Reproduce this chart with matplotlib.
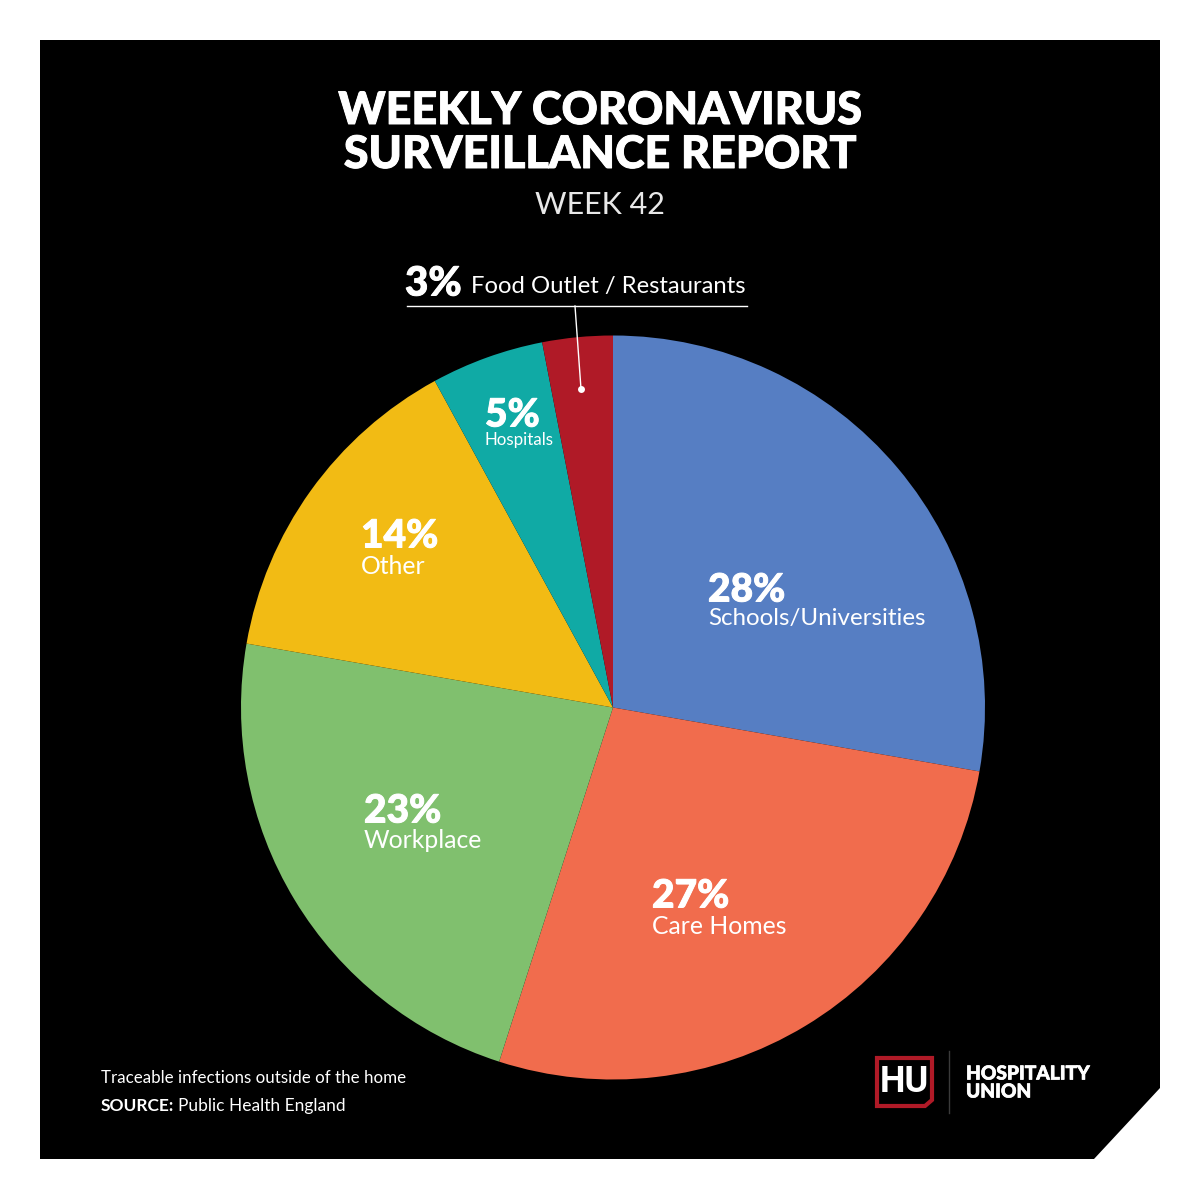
import matplotlib
matplotlib.use("Agg")
import matplotlib.pyplot as plt
import matplotlib.patheffects as pe
from matplotlib.patches import Polygon

categories = ["Schools/Universities", "Care Homes", "Workplace", "Other", "Hospitals", "Food Outlet / Restaurants"]
# printed percentages
values = [28, 27, 23, 14, 5, 3]
# slice sizes, the artwork is not exactly the printed numbers
slice_sizes = [27.75, 27.2, 22.8, 14.3, 4.9, 3.05]
colors = ["#567ec3", "#f16c4d", "#80c06e", "#f2bb14", "#10aaa5", "#b01a27"]

plt.rcParams["font.family"] = ["Lato", "DejaVu Sans"]

fig = plt.figure(figsize=(12, 12), dpi=100, facecolor="white")

# page layer works in image pixels, y going down
bg = fig.add_axes([0, 0, 1, 1])
bg.set_xlim(0, 1200)
bg.set_ylim(1200, 0)
bg.axis("off")
bg.add_patch(Polygon([(40, 40), (1160, 40), (1160, 1088), (1094, 1159), (40, 1159)], fc="black", ec="none"))

# pie centre 613,707 radius 372
cx, cy, r = 613, 707.5, 372
pie_ax = fig.add_axes([(cx - r) / 1200, 1 - (cy + r) / 1200, 2 * r / 1200, 2 * r / 1200])
pie_ax.pie(slice_sizes, colors=colors, startangle=90, counterclock=False, radius=1, normalize=True)
pie_ax.set_xlim(-1, 1)
pie_ax.set_ylim(-1, 1)
pie_ax.set_zorder(1)

fg = fig.add_axes([0, 0, 1, 1])
fg.set_xlim(0, 1200)
fg.set_ylim(1200, 0)
fg.axis("off")
fg.patch.set_alpha(0)
fg.set_zorder(2)

# Lato tops out below the reference's heavy weight, thicken with a stroke
heavy = [pe.withStroke(linewidth=0.7, foreground="white")]

fg.text(600, 111, "WEEKLY CORONAVIRUS", color="white", fontsize=32.3, fontweight="black", ha="center", va="center", path_effects=heavy)
fg.text(600, 155, "SURVEILLANCE REPORT", color="white", fontsize=32.3, fontweight="black", ha="center", va="center", path_effects=heavy)
fg.text(600, 205, "WEEK 42", color="#e8e8e8", fontsize=22, fontweight="normal", ha="center", va="center")

# slice labels
labels = [
    (708, 590, 619, 28, 17.4),
    (652, 896, 926, 28, 17.8),
    (364, 811, 840, 28, 17.8),
    (361, 536, 566, 28, 17.8),
    (485, 415, 440, 28, 12.2),
]
for i, (x, y1, y2, big, small) in enumerate(labels):
    fg.text(x, y1, f"{values[i]}%", color="white", fontsize=big, fontweight="black", va="center", path_effects=heavy)
    fg.text(x, y2, categories[i], color="white", fontsize=small, fontweight="normal", va="center")

# callout for the small slice
fg.text(405, 284, f"{values[5]}%", color="white", fontsize=29, fontweight="black", va="center", path_effects=heavy)
fg.text(471, 287, categories[5], color="white", fontsize=17.2, fontweight="normal", va="center")
fg.plot([407, 747], [305.5, 305.5], color="white", lw=1)
fg.plot([575, 581], [306, 389], color="white", lw=1)
fg.plot([581], [389], "o", color="white", ms=5, mec="none")

# footer
fg.text(101, 1078, "Traceable infections outside of the home", color="white", fontsize=12.2, va="center")
fg.text(101, 1106, "SOURCE:", color="white", fontsize=12.5, fontweight="bold", va="center")
fg.text(178, 1106, "Public Health England", color="white", fontsize=12.5, va="center")

# logo
fg.add_patch(Polygon([(877, 1058), (932, 1058), (932, 1100), (925, 1106), (877, 1106)], fc="none", ec="#b01a27", lw=3))
fg.text(904, 1082, "HU", color="white", fontsize=26, fontweight="bold", ha="center", va="center", family=["Roboto"])
fg.plot([949, 949], [1051, 1113], color="#3a3a3a", lw=1)
logo_stroke = [pe.withStroke(linewidth=0.5, foreground="white")]
fg.text(966, 1074, "HOSPITALITY", color="white", fontsize=13.8, fontweight="black", va="center", path_effects=logo_stroke)
fg.text(966, 1092, "UNION", color="white", fontsize=13.8, fontweight="black", va="center", path_effects=logo_stroke)

fig.savefig("out.png", dpi=100, facecolor="white")
